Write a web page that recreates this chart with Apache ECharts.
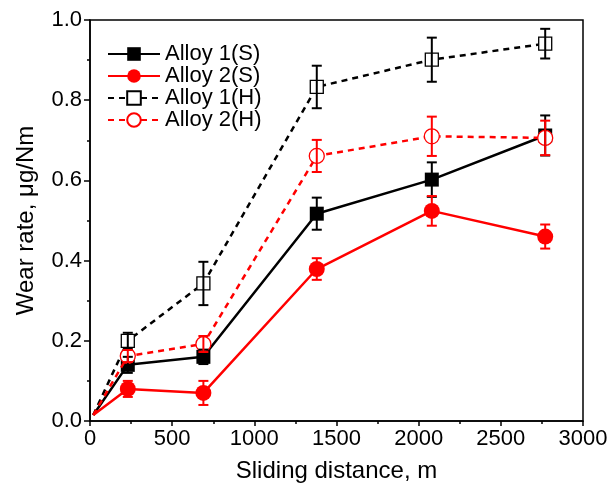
<!DOCTYPE html>
<html>
<head>
<meta charset="utf-8">
<script src="https://cdn.jsdelivr.net/npm/echarts@6/dist/echarts.min.js"></script>
<style>html,body{margin:0;padding:0;background:#fff;}#c{width:614px;height:495px;}</style>
</head>
<body>
<div id="c"></div>
<script>
var distances = [20, 230, 690, 1380, 2080, 2770];
var xTicks = [0, 500, 1000, 1500, 2000, 2500, 3000];
var yTicks = [0.0, 0.2, 0.4, 0.6, 0.8, 1.0];

var alloy1S = [0.015, 0.14, 0.16, 0.517, 0.602, 0.712];
var alloy2S = [0.015, 0.08, 0.07, 0.379, 0.524, 0.460];
var alloy1H = [0.015, 0.20, 0.343, 0.833, 0.901, 0.941];
var alloy2H = [0.015, 0.162, 0.192, 0.661, 0.710, 0.706];

var err1S = [0, 0.02, 0.018, 0.04, 0.043, 0.05];
var err2S = [0, 0.02, 0.03, 0.027, 0.037, 0.03];
var err1H = [0, 0.02, 0.054, 0.053, 0.055, 0.037];
var err2H = [0, 0.015, 0.02, 0.04, 0.049, 0.043];

var FONT = 'Liberation Sans, Arial, sans-serif';

function pts(ys) { return distances.map(function (x, i) { return [x, ys[i]]; }); }
function errPts(ys, es) {
  var out = [];
  distances.forEach(function (x, i) { if (es[i] > 0) out.push([x, ys[i] - es[i], ys[i] + es[i]]); });
  return out;
}
function errSeries(name, ys, es, color) {
  return {
    name: name, type: 'custom', z: 5, silent: true,
    data: errPts(ys, es),
    renderItem: function (params, api) {
      var x = api.value(0);
      var lo = api.coord([x, api.value(1)]);
      var hi = api.coord([x, api.value(2)]);
      var w = 5;
      var st = { stroke: color, lineWidth: 2 };
      return {
        type: 'group',
        children: [
          { type: 'line', shape: { x1: lo[0], y1: lo[1], x2: hi[0], y2: hi[1] }, style: st },
          { type: 'line', shape: { x1: lo[0] - w, y1: lo[1], x2: lo[0] + w, y2: lo[1] }, style: st },
          { type: 'line', shape: { x1: hi[0] - w, y1: hi[1], x2: hi[0] + w, y2: hi[1] }, style: st }
        ]
      };
    }
  };
}
function sz(s) { return function (v, p) { return p.dataIndex === 0 ? 0 : s; }; }

var chart = echarts.init(document.getElementById('c'), null, { renderer: 'canvas' });
chart.setOption({
  animation: false,
  backgroundColor: '#fff',
  grid: { left: 90, top: 20, right: 31, bottom: 74, containLabel: false, outerBoundsMode: 'none',
    show: true, borderColor: '#000', borderWidth: 1.5, backgroundColor: 'transparent' },
  legend: {
    orient: 'vertical', left: 102, top: 38, itemWidth: 52, itemHeight: 17, itemGap: 0,
    textStyle: { fontFamily: FONT, fontSize: 22, color: '#000' },
    data: ['Alloy 1(S)', 'Alloy 2(S)', 'Alloy 1(H)', 'Alloy 2(H)']
  },
  xAxis: {
    type: 'value', min: 0, max: 3000, interval: 500,
    name: 'Sliding distance, m', nameLocation: 'middle', nameGap: 38,
    nameTextStyle: { fontFamily: FONT, fontSize: 24, color: '#000' },
    axisLine: { show: true, onZero: false, lineStyle: { color: '#000', width: 1.5 } },
    axisTick: { show: true, inside: false, length: 5, lineStyle: { color: '#000', width: 1.5 } },
    minorTick: { show: true, splitNumber: 2, length: 3, lineStyle: { color: '#000', width: 1.5 } },
    axisLabel: { fontFamily: FONT, fontSize: 22, color: '#000', margin: 7,
      formatter: function (v) { return xTicks.indexOf(v) >= 0 ? String(v) : ''; } },
    splitLine: { show: false }
  },
  yAxis: {
    type: 'value', min: 0, max: 1, interval: 0.2,
    name: 'Wear rate, \u03bcg/Nm', nameLocation: 'middle', nameGap: 52,
    nameTextStyle: { fontFamily: FONT, fontSize: 24, color: '#000' },
    axisLine: { show: true, onZero: false, lineStyle: { color: '#000', width: 1.5 } },
    axisTick: { show: true, inside: false, length: 6, lineStyle: { color: '#000', width: 1.5 } },
    minorTick: { show: true, splitNumber: 2, length: 3, lineStyle: { color: '#000', width: 1.5 } },
    axisLabel: { fontFamily: FONT, fontSize: 22, color: '#000', margin: 8,
      formatter: function (v) { return v.toFixed(1); } },
    splitLine: { show: false }
  },
  series: [
    { name: 'Alloy 1(H)', type: 'line', data: pts(alloy1H), z: 2,
      symbol: 'rect', symbolSize: sz(13),
      lineStyle: { color: '#000', width: 2.5, type: [6, 5] },
      itemStyle: { color: '#fff', borderColor: '#000', borderWidth: 1.3 } },
    { name: 'Alloy 1(S)', type: 'line', data: pts(alloy1S), z: 3,
      symbol: 'rect', symbolSize: sz(14),
      lineStyle: { color: '#000', width: 2.5 },
      itemStyle: { color: '#000', borderColor: '#000', borderWidth: 0 } },
    { name: 'Alloy 2(S)', type: 'line', data: pts(alloy2S), z: 3,
      symbol: 'circle', symbolSize: sz(16),
      lineStyle: { color: '#ff0000', width: 2.5 },
      itemStyle: { color: '#ff0000', borderColor: '#ff0000', borderWidth: 0 } },
    { name: 'Alloy 2(H)', type: 'line', data: pts(alloy2H), z: 4,
      symbol: 'circle', symbolSize: sz(15),
      lineStyle: { color: '#ff0000', width: 2.5, type: [6, 5] },
      itemStyle: { color: '#fff', borderColor: '#ff0000', borderWidth: 1.3 } },
    errSeries('e1H', alloy1H, err1H, '#000'),
    errSeries('e1S', alloy1S, err1S, '#000'),
    errSeries('e2S', alloy2S, err2S, '#ff0000'),
    errSeries('e2H', alloy2H, err2H, '#ff0000')
  ]
});
</script>
</body>
</html>
